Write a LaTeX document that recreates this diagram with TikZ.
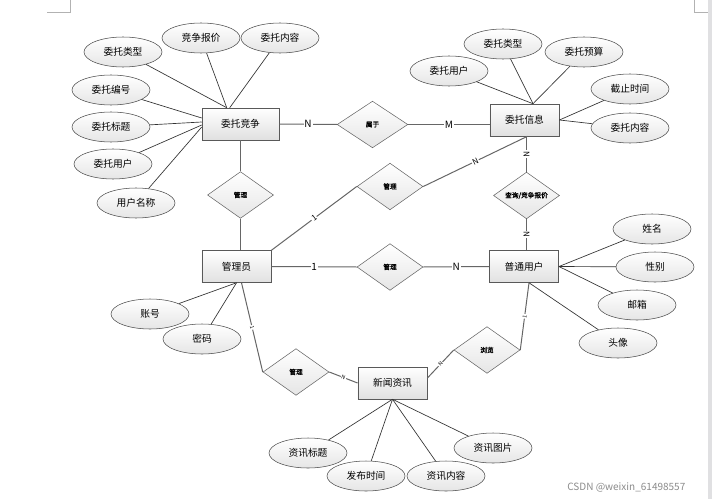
\documentclass[tikz,border=0pt]{standalone}
\usepackage{fontspec}
\newfontfamily\cjk[AutoFakeBold=1.5]{Noto Sans CJK SC}
\usetikzlibrary{shapes.geometric,calc}
\begin{document}
\begin{tikzpicture}[x=0.75pt,y=-0.75pt,
  entity/.style={draw=black!65,top color=white,bottom color=black!12,minimum width=52pt,minimum height=24pt,inner sep=0pt,font=\cjk\fontsize{7.3}{8}\selectfont},
  attr/.style={ellipse,draw=black!70,top color=white,bottom color=black!10,minimum width=58.5pt,minimum height=22.5pt,inner sep=0pt,font=\cjk\fontsize{7.3}{8}\selectfont},
  rel/.style={diamond,draw=black!60,top color=white,bottom color=black!10,minimum width=49.5pt,minimum height=35pt,inner sep=0pt,font=\cjk\bfseries\fontsize{5}{5}\selectfont},
  attrline/.style={draw=black!80,line width=0.5pt},
  relline/.style={draw=black!60,line width=0.75pt},
  card/.style={fill=white,inner sep=0.6pt,font=\cjk\fontsize{7.5}{8}\selectfont},
  tinycard/.style={card,sloped,font=\cjk\fontsize{4}{4}\selectfont}]
\useasboundingbox[fill=white] (0,0) rectangle (712,499);

\fill[blue!4!black!12] (708,0) rectangle (712,499);
\draw[black!30] (47,12) -- (70,12) -- (70,0);
\draw[black!30] (694,0) -- (694,12) -- (708,12);

\node[entity,minimum width=57.75pt] (wtjz) at (240.5,124) {委托竞争};
\node[entity] (wtxx) at (524.5,120) {委托信息};
\node[entity] (gly) at (236.5,266.5) {管理员};
\node[entity] (ptyh) at (524,266.5) {普通用户};
\node[entity] (xwzx) at (392.5,383) {新闻资讯};

\node[rel,minimum width=53pt] (sy) at (372.5,124.5) {属于};
\node[rel] (glA) at (240.5,195) {管理};
\node[rel] (glB) at (390,186.5) {管理};
\node[rel] (cx) at (526.5,195.5) {\makebox[0pt]{查询/竞争报价}};
\node[rel] (glC) at (390,267) {管理};
\node[rel] (glD) at (296,372) {管理};
\node[rel] (ll) at (487,350) {浏览};

\foreach \n/\x/\y/\t in {jzlx/123/52/委托类型,jzbj/201/38/竞争报价,jznr/280/38/委托内容,
  jzbh/111/90/委托编号,jzbt/111/127/委托标题,jzyh/113/164/委托用户,jzmc/136/203/用户名称,
  xxyh/449/71/委托用户,xxlx/503/44/委托类型,xxys/584/52/委托预算,xxjz/630/89/截止时间,xxnr/630/128/委托内容,
  yhxm/652/229/姓名,yhxb/655/267/性别,yhyx/637/305/邮箱,yhtx/618/343/头像,
  glzh/150/314/账号,glmm/202/339/密码,
  zxbt/308/453/资讯标题,zxsj/366/476/发布时间,zxnr/446/476/资讯内容,zxtp/493/448/资讯图片}
  \node[attr] (\n) at (\x,\y) {\t};

\foreach \a/\dx in {jzlx/25,jzbj/25,jznr/28}
  \draw[attrline] (\a) -- ($(wtjz.north west)+(\dx,0)$);
\foreach \a/\dy in {jzbh/-6,jzbt/-2,jzyh/1,jzmc/3}
  \draw[attrline] (\a) -- ($(wtjz.west)+(0,\dy)$);
\foreach \a in {xxyh,xxlx,xxys}
  \draw[attrline] (\a) -- ($(wtxx.north)+(8.5,0)$);
\foreach \a in {xxjz,xxnr}
  \draw[attrline] (\a) -- (wtxx.east);
\foreach \a in {yhxm,yhxb,yhyx}
  \draw[attrline] (\a) -- (ptyh.east);
\draw[attrline] (yhtx) -- ($(ptyh.south)+(5,0)$);
\foreach \a in {glzh,glmm}
  \draw[attrline] (\a) -- (gly.south);
\foreach \a in {zxbt,zxsj,zxnr,zxtp}
  \draw[attrline] (\a) -- (xwzx.south);

\draw[relline] (wtjz.east) -- node[card] {N} (sy.west);
\draw[relline] (sy.east) -- node[card] {M} (sy.east -| wtxx.west);
\draw[relline] (wtjz.south) -- (glA.north);
\draw[relline] (glA.south) -- (glA.south |- gly.north);
\draw[relline] (gly.north east) -- node[card,sloped,font=\cjk\fontsize{6}{6}\selectfont] {1} (glB.west);
\draw[relline] (glB.east) -- node[card,sloped,font=\cjk\fontsize{6}{6}\selectfont] {N} ($(wtxx.south)+(3,0)$);
\draw[relline] (wtxx.south -| cx.north) -- node[card,sloped,font=\cjk\fontsize{6}{6}\selectfont] {N} (cx.north);
\draw[relline] (cx.south) -- node[card,sloped,font=\cjk\fontsize{6}{6}\selectfont] {N} (cx.south |- ptyh.north);
\draw[relline] (gly.east) -- node[card] {1} (glC.west);
\draw[relline] (glC.east) -- node[card] {N} (ptyh.west);
\draw[relline] ($(gly.south)+(5,0)$) -- node[tinycard] {1} (glD.west);
\draw[relline] (glD.east) -- node[tinycard] {N} (xwzx.west);
\draw[relline] ($(xwzx.east)+(0,-5)$) -- node[tinycard] {N} (ll.west);
\draw[relline] (ll.east) -- node[tinycard] {1} ($(ptyh.south)+(5,0)$);

\node[font=\cjk\fontsize{7.5}{8}\selectfont,text=black!45,anchor=east] (wm) at (690,487) {CSDN @weixin\_61498557};
\end{tikzpicture}
\end{document}
